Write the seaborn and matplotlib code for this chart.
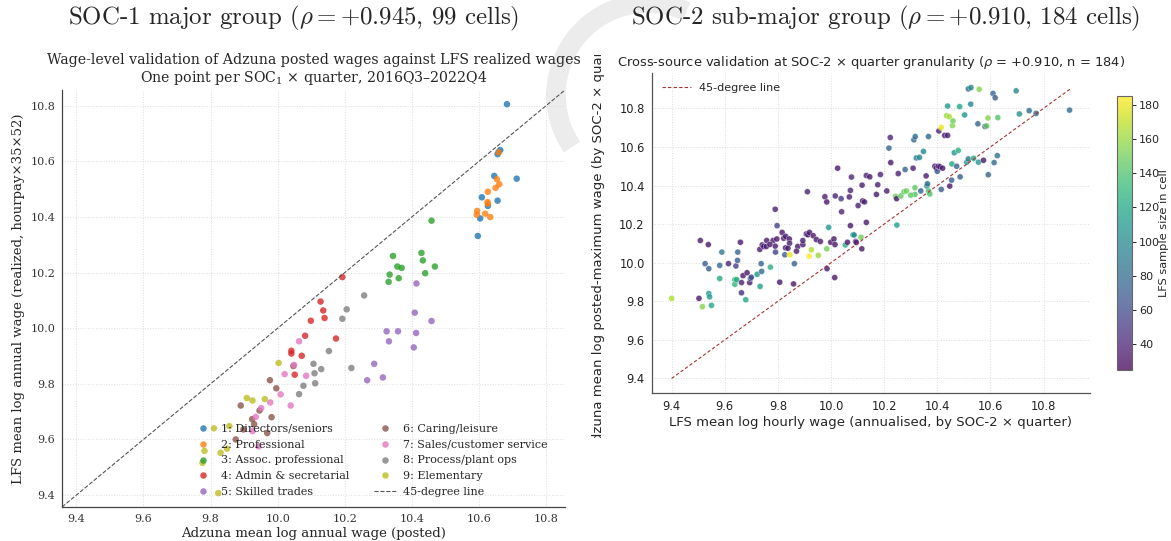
import numpy as np
import pandas as pd
import matplotlib
matplotlib.use("Agg")
import matplotlib.pyplot as plt
import seaborn as sns
from matplotlib.patches import Arc
from matplotlib.transforms import Bbox
import matplotlib.colors as mcolors
import matplotlib.cm as mcm

# ---------------- data: SOC-1 panel ----------------
group_labels = ["1: Directors/seniors", "2: Professional", "3: Assoc. professional",
                "4: Admin & secretarial", "5: Skilled trades", "6: Caring/leisure",
                "7: Sales/customer service", "8: Process/plant ops", "9: Elementary"]

g1_x = [10.684, 10.664, 10.656, 10.646, 10.713, 10.609, 10.627, 10.656, 10.604, 10.597, 10.659]
g1_y = [10.806, 10.641, 10.626, 10.548, 10.538, 10.471, 10.440, 10.459, 10.395, 10.332, 10.634]
g2_x = [10.659, 10.654, 10.661, 10.650, 10.627, 10.626, 10.627, 10.595, 10.594, 10.619, 10.634]
g2_y = [10.633, 10.536, 10.518, 10.505, 10.491, 10.454, 10.448, 10.422, 10.408, 10.412, 10.400]
g3_x = [10.459, 10.344, 10.429, 10.433, 10.357, 10.370, 10.334, 10.361, 10.331, 10.440, 10.469]
g3_y = [10.387, 10.260, 10.271, 10.244, 10.222, 10.217, 10.193, 10.180, 10.167, 10.198, 10.222]
g4_x = [10.193, 10.128, 10.136, 10.140, 10.099, 10.082, 10.174, 10.041, 10.041, 10.072, 10.051]
g4_y = [10.184, 10.096, 10.064, 10.037, 10.027, 9.973, 9.963, 9.919, 9.909, 9.901, 9.833]
g5_x = [10.414, 10.409, 10.459, 10.325, 10.359, 10.413, 10.332, 10.406, 10.288, 10.314, 10.267]
g5_y = [10.161, 10.056, 10.026, 9.989, 9.989, 9.983, 9.953, 9.931, 9.872, 9.823, 9.813]
g6_x = [10.047, 9.977, 9.996, 9.890, 9.946, 9.982, 9.924, 9.898, 9.969, 9.930, 9.875]
g6_y = [9.864, 9.813, 9.784, 9.722, 9.704, 9.680, 9.673, 9.636, 9.623, 9.655, 9.600]
g7_x = [10.064, 10.049, 10.021, 10.085, 10.009, 9.978, 10.039, 9.951, 9.935, 9.943, 9.925]
g7_y = [9.953, 9.868, 9.835, 9.829, 9.762, 9.733, 9.722, 9.713, 9.681, 9.575, 9.630]
g8_x = [10.258, 10.206, 10.193, 10.153, 10.107, 10.130, 10.220, 10.110, 10.077, 10.112, 10.064]
g8_y = [10.118, 10.068, 10.034, 9.918, 9.872, 9.853, 9.857, 9.838, 9.793, 9.802, 9.763]
g9_x = [10.003, 9.908, 9.925, 9.962, 9.810, 9.856, 9.782, 9.776, 9.830, 9.849, 9.823]
g9_y = [9.875, 9.749, 9.740, 9.745, 9.640, 9.648, 9.559, 9.516, 9.552, 9.567, 9.407]

# ---------------- data: SOC-2 panel ----------------
soc2_lfs = [9.400, 9.503, 9.516, 9.508, 9.538, 9.526, 9.540, 9.540, 9.543, 9.550, 9.581, 9.589,
            9.581, 9.614, 9.642, 9.648, 9.649, 9.659, 9.638, 9.638, 9.645, 9.663, 9.663, 9.669,
            9.684, 9.679, 9.694, 9.697, 9.722, 9.732, 9.741, 9.747, 9.757, 9.758, 9.737, 9.739,
            9.733, 9.772, 9.782, 9.790, 9.790, 9.791, 9.797, 9.796, 9.807, 9.816, 9.822, 9.829,
            9.829, 9.826, 9.843, 9.844, 9.838, 9.845, 9.859, 9.862, 9.875, 9.894, 9.894, 9.907,
            9.911, 9.913, 9.919, 9.918, 9.926, 9.933, 9.945, 9.952, 9.977, 9.984, 9.985, 9.984,
            9.991, 9.999, 10.014, 10.011, 10.016, 10.015, 10.025, 10.038, 10.040, 10.054, 10.062,
            10.069, 10.073, 10.073, 10.077, 10.083, 10.087, 10.093, 10.102, 10.113, 10.116, 10.117,
            10.119, 10.126, 10.133, 10.133, 10.146, 10.176, 10.171, 10.186, 10.210, 10.218, 10.223,
            10.225, 10.243, 10.247, 10.248, 10.253, 10.263, 10.275, 10.284, 10.279, 10.309, 10.312,
            10.317, 10.316, 10.316, 10.321, 10.333, 10.338, 10.348, 10.358, 10.361, 10.363, 10.367,
            10.367, 10.372, 10.391, 10.396, 10.400, 10.404, 10.406, 10.410, 10.415, 10.415, 10.428,
            10.439, 10.435, 10.439, 10.445, 10.447, 10.454, 10.457, 10.459, 10.455, 10.464, 10.473,
            10.479, 10.484, 10.486, 10.503, 10.511, 10.517, 10.517, 10.527, 10.526, 10.537, 10.553,
            10.555, 10.558, 10.574, 10.580, 10.586, 10.591, 10.592, 10.610, 10.618, 10.614, 10.626,
            10.628, 10.697, 10.709, 10.746, 10.772, 10.898, 9.870, 9.960, 10.420, 10.095, 9.770,
            9.700, 10.300]
soc2_adzuna = [9.815, 9.815, 9.772, 10.115, 10.094, 9.995, 9.969, 9.840, 9.823, 9.779, 9.986, 10.055,
               9.918, 9.995, 9.983, 10.012, 10.055, 10.106, 9.912, 9.888, 9.912, 9.897, 9.844, 9.933,
               9.948, 9.808, 9.897, 9.918, 9.940, 10.069, 10.092, 10.084, 10.084, 10.115, 9.995, 9.955,
               9.877, 9.977, 10.115, 10.277, 10.086, 10.055, 10.192, 10.123, 9.899, 10.157, 10.127, 10.137,
               10.077, 10.041, 10.123, 10.101, 10.075, 10.041, 9.890, 9.995, 10.084, 10.094, 10.115, 10.149,
               10.368, 10.145, 10.157, 10.034, 10.067, 10.140, 10.120, 10.038, 10.342, 10.315, 9.969, 10.072,
               10.183, 10.106, 9.923, 10.123, 10.346, 10.094, 10.490, 10.332, 10.264, 10.092, 10.106,
               10.341, 10.375, 10.192, 10.444, 10.144, 10.144, 10.110, 10.296, 10.132, 10.072, 10.402,
               10.320, 10.315, 10.209, 10.452, 10.445, 10.404, 10.354, 10.457, 10.372, 10.594, 10.649,
               10.519, 10.344, 10.332, 10.195, 10.462, 10.346, 10.368, 10.372, 10.483, 10.490, 10.637,
               10.654, 10.389, 10.354, 10.543, 10.546, 10.372, 10.577, 10.450, 10.397, 10.409, 10.654,
               10.372, 10.356, 10.500, 10.491, 10.474, 10.500, 10.683, 10.497, 10.380, 10.701, 10.660,
               10.660, 10.762, 10.812, 10.757, 10.397, 10.428, 10.711, 10.735, 10.512, 10.570, 10.500,
               10.582, 10.809, 10.445, 10.766, 10.521, 10.538, 10.901, 10.908, 10.822, 10.541, 10.720,
               10.521, 10.899, 10.531, 10.706, 10.709, 10.750, 10.456, 10.877, 10.855, 10.519, 10.555,
               10.752, 10.891, 10.771, 10.788, 10.774, 10.791, 10.060, 10.110, 10.490, 10.105, 10.095,
               9.925, 10.350]
soc2_n = [165, 35, 155, 38, 35, 70, 72, 110, 112, 120, 80, 90,
          120, 40, 55, 70, 75, 35, 130, 130, 120, 40, 45, 35,
          35, 120, 35, 60, 110, 38, 35, 35, 40, 35, 75, 80,
          115, 125, 35, 38, 35, 55, 55, 35, 35, 35, 35, 38,
          35, 70, 35, 38, 35, 180, 35, 75, 35, 35, 38, 35,
          40, 35, 35, 185, 165, 35, 35, 160, 38, 35, 35, 150,
          110, 35, 35, 35, 40, 35, 35, 50, 40, 120, 35,
          38, 40, 35, 42, 110, 100, 35, 38, 150, 35, 38,
          35, 38, 35, 40, 35, 38, 35, 40, 38, 75, 40,
          35, 150, 35, 115, 38, 145, 145, 150, 75, 38, 80,
          80, 145, 140, 95, 95, 70, 100, 35, 100, 80, 75,
          140, 140, 35, 38, 65, 35, 40, 38, 70, 180, 38,
          40, 160, 110, 165, 35, 70, 155, 150, 120, 110, 75,
          125, 120, 70, 110, 110, 85, 80, 100, 100, 120, 75,
          110, 155, 35, 65, 145, 155, 75, 75, 70, 80, 85,
          140, 100, 105, 80, 75, 80, 35, 38, 35, 40, 35,
          60, 145]

line_45 = [9.4, 10.9]

# ---------------- figure ----------------
sns.set_theme(style="white")
plt.rcParams["mathtext.fontset"] = "cm"

W, H = 1171, 541
fig = plt.figure(figsize=(W / 100, H / 100), dpi=100)

def fx(px):
    return px / W

def fy(py):
    return 1 - py / H

# faint watermark arc behind everything
arc = Arc((fx(648), fy(95)), width=2 * 92 / W, height=2 * 92 / H, angle=0,
          theta1=78, theta2=236, transform=fig.transFigure, color="#ececec",
          lw=14, zorder=-5)
fig.patches.append(arc)

# ---------- left panel ----------
axL = fig.add_axes([fx(62), fy(507), fx(565 - 62), (507 - 90) / H])
axL.set_facecolor("none")
xs = [g1_x, g2_x, g3_x, g4_x, g5_x, g6_x, g7_x, g8_x, g9_x]
ys = [g1_y, g2_y, g3_y, g4_y, g5_y, g6_y, g7_y, g8_y, g9_y]
dfL = pd.DataFrame({
    "posted": np.concatenate(xs),
    "realized": np.concatenate(ys),
    "group": np.repeat(group_labels, [len(v) for v in xs]),
})
sns.scatterplot(data=dfL, x="posted", y="realized", hue="group", hue_order=group_labels,
                palette="tab10", s=22, alpha=0.8, linewidth=0, ax=axL)
lim = (9.357, 10.857)
axL.plot(lim, lim, ls="--", color="#555555", lw=0.8, label="45-degree line", zorder=1)
axL.set_xlim(lim)
axL.set_ylim(lim)
serif = "DejaVu Serif"
ticks = [9.4, 9.6, 9.8, 10.0, 10.2, 10.4, 10.6, 10.8]
tick_labels = ["9.4", "9.6", "9.8", "10.0", "10.2", "10.4", "10.6", "10.8"]
axL.set_xticks(ticks)
axL.set_yticks(ticks)
axL.set_xticklabels(tick_labels, fontfamily=serif, fontsize=8, color="#333333")
axL.set_yticklabels(tick_labels, fontfamily=serif, fontsize=8, color="#333333")
axL.set_xlabel("Adzuna mean log annual wage (posted)", fontfamily=serif, fontsize=9.5,
               labelpad=2)
axL.set_ylabel("LFS mean log annual wage (realized, hourpay×35×52)", fontfamily=serif,
               fontsize=9.5, labelpad=4)
axL.set_title("Wage-level validation of Adzuna posted wages against LFS realized wages\n"
              "One point per SOC$_1$ × quarter, 2016Q3–2022Q4", fontfamily=serif,
              fontsize=10.2, math_fontfamily="dejavuserif", pad=6, linespacing=1.1)
axL.grid(True, ls=":", color="#dddddd", lw=0.7)
for s in ["top", "right"]:
    axL.spines[s].set_visible(False)
for s in ["left", "bottom"]:
    axL.spines[s].set_color("#444444")
    axL.spines[s].set_linewidth(0.9)
axL.tick_params(axis="both", length=3, width=0.8, color="#444444", pad=2)
h, l = axL.get_legend_handles_labels()
axL.legend(h, l, ncol=2, loc="lower right", bbox_to_anchor=(0.985, 0.0), frameon=False,
           prop={"family": serif, "size": 8}, handletextpad=0.6, columnspacing=2.2,
           labelspacing=0.52, handlelength=2.0)

# ---------- right panel ----------
axR = fig.add_axes([fx(651.7), fy(393), fx(1090 - 651.7), (393 - 73) / H])
axR.set_facecolor("none")
dfR = pd.DataFrame({"lfs": soc2_lfs, "adz": soc2_adzuna, "n": soc2_n})
vmin, vmax = 25, 185
sns.scatterplot(data=dfR, x="lfs", y="adz", hue="n", palette="viridis",
                hue_norm=(vmin, vmax), s=19, alpha=0.8, edgecolor="white",
                linewidth=0.3, legend=False, ax=axR)
axR.plot(line_45, line_45, ls="--", color="#a83232", lw=0.8, dashes=(3, 2),
         label="45-degree line", zorder=1)
axR.margins(0.05)
axR.set_xticks(ticks)
axR.set_yticks(ticks)
axR.tick_params(axis="both", labelsize=8.3, length=3, width=0.8, color="#444444", pad=2,
                labelcolor="#222222")
axR.set_xlabel("LFS mean log hourly wage (annualised, by SOC-2 × quarter)", fontsize=9.5,
               labelpad=2)
ylab = axR.set_ylabel("Adzuna mean log posted-maximum wage (by SOC-2 × quarter)",
                      fontsize=9.5)
axR.yaxis.set_label_coords(-0.107, 0.484)
clip = Bbox.from_extents(590, H - 438, 640, H - 55)
ylab.set_clip_box(clip)
ylab.set_clip_on(True)
axR.set_title("Cross-source validation at SOC-2 × quarter granularity "
              "($\\rho$ = +0.910, n = 184)", fontsize=9.4, math_fontfamily="dejavusans",
              pad=5)
axR.grid(True, ls=":", color="#dddddd", lw=0.7)
for s in ["top", "right"]:
    axR.spines[s].set_visible(False)
for s in ["left", "bottom"]:
    axR.spines[s].set_color("#555555")
    axR.spines[s].set_linewidth(0.9)
axR.legend(loc="upper left", frameon=False, fontsize=8, handlelength=2.6)

cax = fig.add_axes([fx(1117), fy(370), fx(15), (370 - 96) / H])
sm = mcm.ScalarMappable(norm=mcolors.Normalize(vmin, vmax), cmap="viridis")
cb = fig.colorbar(sm, cax=cax, alpha=0.75)
cb.set_ticks([40, 60, 80, 100, 120, 140, 160, 180])
cb.ax.tick_params(labelsize=8, length=3, width=0.7, pad=2)
cb.set_label("LFS sample size in cell", fontsize=8.2, labelpad=-1)
cb.outline.set_edgecolor("#666666")
cb.outline.set_linewidth(0.8)

# ---------- big headings ----------
fig.text(fx(294), fy(18), "SOC-1 major group ($\\rho = +0.945$, 99 cells)",
         fontfamily="cmr10", math_fontfamily="cm", fontsize=17.9, ha="center", va="center")
fig.text(fx(886), fy(18), "SOC-2 sub-major group ($\\rho = +0.910$, 184 cells)",
         fontfamily="cmr10", math_fontfamily="cm", fontsize=17.9, ha="center", va="center")

fig.savefig("out.png", dpi=100)
